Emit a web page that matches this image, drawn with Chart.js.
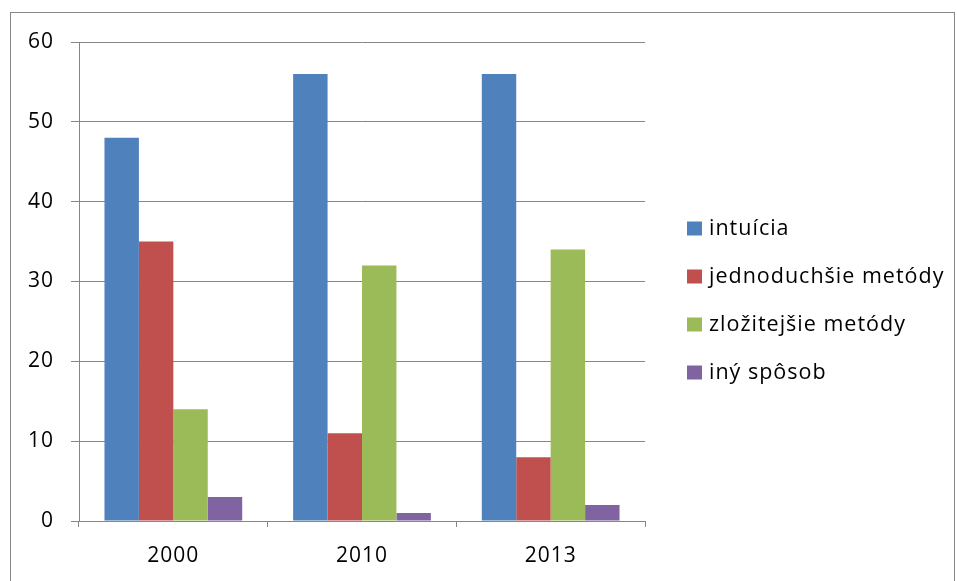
<!DOCTYPE html>
<html>
<head>
<meta charset="utf-8">
<script src="https://cdn.jsdelivr.net/npm/chart.js@4"></script>
<style>
html,body{margin:0;padding:0;background:#fff;overflow:hidden;}
#wrap{position:relative;width:957px;height:581px;}
#frame{position:absolute;left:10px;top:12px;width:945px;height:620px;border:1px solid #868686;box-sizing:border-box;pointer-events:none;}
canvas{position:absolute;left:0;top:0;}
</style>
</head>
<body>
<div id="wrap"><canvas id="c" width="957" height="581"></canvas><div id="frame"></div></div>
<script>
const categories = ['2000', '2010', '2013'];
const seriesNames = ['intuícia', 'jednoduchšie metódy', 'zložitejšie metódy', 'iný spôsob'];
const intuicia = [48, 56, 56];
const jednoduchsie = [35, 11, 8];
const zlozitejsie = [14, 32, 34];
const inySposob = [3, 1, 2];
const yTicks = [0, 10, 20, 30, 40, 50, 60];

const colors = ['#4F81BD', '#C0504D', '#9BBB59', '#8064A2'];
const values = [intuicia, jednoduchsie, zlozitejsie, inySposob];
const FONT = '"Open Sans", Lato, sans-serif';

const spacingPlugin = {
  id: 'spacing',
  beforeDraw(chart) { chart.ctx.letterSpacing = '1px'; }
};

const legendPlugin = {
  id: 'customLegend',
  afterDraw(chart) {
    const ctx = chart.ctx;
    ctx.save();
    ctx.letterSpacing = '1px';
    ctx.font = '21.5px ' + FONT;
    ctx.textBaseline = 'middle';
    ctx.textAlign = 'left';
    const x0 = 687, y0 = 228.5, step = 48;
    chart.data.datasets.forEach((ds, i) => {
      const y = y0 + i * step;
      ctx.fillStyle = ds.backgroundColor;
      ctx.fillRect(x0, y - 7, 15, 14);
      ctx.fillStyle = '#000';
      ctx.fillText(ds.label, x0 + 22, y);
    });
    ctx.restore();
  }
};

new Chart(document.getElementById('c'), {
  type: 'bar',
  data: {
    labels: categories,
    datasets: seriesNames.map((n, i) => ({
      label: n,
      data: values[i],
      backgroundColor: colors[i],
      borderWidth: 0,
      barPercentage: 1.0,
      categoryPercentage: 0.73
    }))
  },
  options: {
    responsive: false,
    animation: false,
    devicePixelRatio: 1,
    layout: { padding: { left: 0, top: 42, right: 312, bottom: 0 } },
    plugins: { legend: { display: false }, tooltip: { enabled: false } },
    scales: {
      x: {
        grid: { display: true, drawOnChartArea: false, drawTicks: true, tickLength: 6, color: '#868686', offset: true },
        border: { display: true, color: '#868686' },
        ticks: { color: '#000', font: { family: FONT, size: 21 }, padding: 16 },
        afterFit(s) { s.height = 581 - 521; }
      },
      y: {
        min: 0, max: 60,
        afterBuildTicks(s) { s.ticks = yTicks.map(v => ({ value: v })); },
        grid: { color: '#868686', tickLength: 8, lineWidth: 1 },
        border: { display: true, color: '#868686' },
        ticks: { color: '#000', font: { family: FONT, size: 21 }, padding: 17 },
        afterFit(s) { s.width = 79; }
      }
    }
  },
  plugins: [spacingPlugin, legendPlugin]
});
</script>
</body>
</html>
